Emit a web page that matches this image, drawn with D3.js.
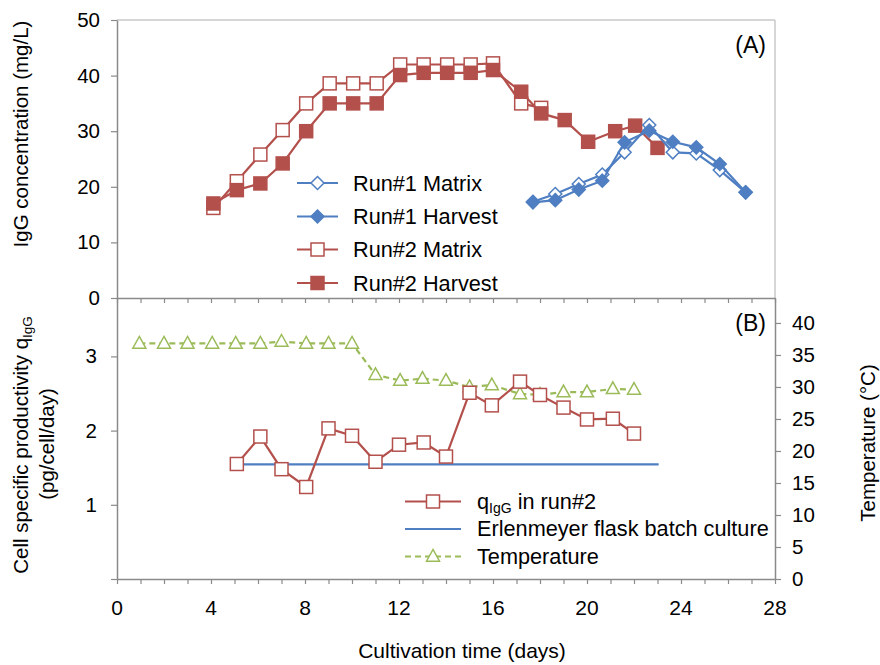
<!DOCTYPE html>
<html><head><meta charset="utf-8">
<script src="https://cdn.jsdelivr.net/npm/d3@7"></script>
<style>
body{margin:0;background:#fff;}
text{font-family:"Liberation Sans",Arial,sans-serif;fill:#000;}
</style></head>
<body><svg id="c" width="880" height="665"></svg>
<script>
// ---------- data ----------
const run2Days = [4.1,5.1,6.1,7.05,8.05,9.05,10.05,11.05,12.05,13.05,14.05,15.05,16.0,17.2,18.05,19.05,20.05,21.2,22.05,23.0];
const run2Matrix = [16.2,21.0,25.8,30.2,35.0,38.6,38.6,38.6,42.0,42.0,42.0,42.0,42.2,35.0,34.2];
const run2Harvest = [17.0,19.4,20.6,24.2,30.0,35.0,35.0,35.0,40.1,40.5,40.5,40.5,41.0,37.1,33.2,32.0,28.1,30.0,31.0,27.0];
const run1Days = [17.7,18.65,19.65,20.65,21.6,22.65,23.65,24.65,25.65,26.75];
const run1Matrix = [17.3,18.7,20.5,22.2,26.2,31.1,26.2,26.0,23.0,19.0];
const run1Harvest = [17.2,17.6,19.5,21.1,28.0,30.1,28.1,27.1,24.1,19.0];
const qDays = [5.1,6.1,7.0,8.05,9.0,10.0,11.0,12.0,13.05,14.0,15.0,15.95,17.15,18.0,19.0,20.0,21.1,22.0];
const qValues = [1.55,1.92,1.48,1.24,2.03,1.93,1.58,1.81,1.84,1.65,2.51,2.34,2.66,2.48,2.31,2.15,2.16,1.96];
const flaskDays = [5.1,23.05];
const flaskValues = [1.545,1.545];
const tempDays = [0.95,2.0,3.0,4.05,5.05,6.1,7.0,8.05,9.0,10.0,11.0,12.05,13.0,14.0,15.0,15.95,17.15,18.0,19.0,20.0,21.1,22.0];
const tempValues = [36.8,36.8,36.8,36.8,36.8,36.8,37.1,36.8,36.8,36.8,31.9,31.0,31.3,31.0,30.0,30.3,28.9,28.8,29.2,29.2,29.7,29.6];
const xTicks = [0,4,8,12,16,20,24,28];
const yTicksA = [0,10,20,30,40,50];
const yTicksB = [1,2,3];
const yTicksT = [0,5,10,15,20,25,30,35,40];

// ---------- layout ----------
const RED = "#B3504C", BLUE = "#4F7FC2", GREEN = "#9BBB59", AX = "#8a8a8a";
const L = 117, R = 775, AT = 20, AB = 298, BT = 298, BB = 579;
const svg = d3.select("#c");
const x = d3.scaleLinear().domain([0,28]).range([L,R]);
const yA = d3.scaleLinear().domain([0,50]).range([AB,AT]);
const yB = d3.scaleLinear().domain([0,3.787]).range([BB,BT]);
const yT = d3.scaleLinear().domain([0,43.9]).range([BB,BT]);
const zip = (a,b) => b.map((v,i)=>[a[i],v]);

// frame lines
svg.append("line").attr("x1",L).attr("x2",R).attr("y1",AT).attr("y2",AT).attr("stroke","#c8c8c8").attr("stroke-width",1.5);
svg.append("line").attr("x1",R).attr("x2",R).attr("y1",AT).attr("y2",AB).attr("stroke","#c8c8c8").attr("stroke-width",1.5);

function styleAxis(g, fs){
  g.selectAll("path.domain").attr("stroke",AX).attr("stroke-width",1.5);
  g.selectAll(".tick line").attr("stroke",AX).attr("stroke-width",1.2);
  g.selectAll("text").attr("font-size",fs).attr("fill","#000").style("font-family","'Liberation Sans',Arial,sans-serif");
}
const allDays = d3.range(0,29);
// panel A x axis (ticks only)
const gxa = svg.append("g").attr("transform",`translate(0,${AB})`)
  .call(d3.axisBottom(x).tickValues(allDays).tickSize(5).tickSizeOuter(0).tickFormat(""));
styleAxis(gxa,0);
// panel B x axis
const gxb = svg.append("g").attr("transform",`translate(0,${BB})`)
  .call(d3.axisBottom(x).tickValues(allDays).tickSize(5).tickSizeOuter(0).tickFormat(""));
styleAxis(gxb,0);
svg.append("g").selectAll("text").data(xTicks).join("text")
  .attr("x",d=>x(d)).attr("y",615).attr("text-anchor","middle").attr("font-size",21).text(d=>d);
// panel A y axis
const gya = svg.append("g").attr("transform",`translate(${L},0)`)
  .call(d3.axisLeft(yA).tickValues(yTicksA).tickSize(6).tickSizeOuter(0).tickPadding(11));
styleAxis(gya,20.5);
// panel B y axis
const gyb = svg.append("g").attr("transform",`translate(${L},0)`)
  .call(d3.axisLeft(yB).tickValues([0].concat(yTicksB)).tickSize(6).tickSizeOuter(0).tickPadding(14).tickFormat(d=>d===0?"":d));
styleAxis(gyb,20.5);
// right temperature axis
const gyt = svg.append("g").attr("transform",`translate(${R},0)`)
  .call(d3.axisRight(yT).tickValues(yTicksT).tickSize(6).tickSizeOuter(0).tickPadding(11));
styleAxis(gyt,20.5);

// axis titles
svg.append("text").attr("transform",`translate(28,134) rotate(-90)`).attr("text-anchor","middle")
  .attr("font-size",20.5).text("IgG concentration (mg/L)");
const t1 = svg.append("text").attr("transform",`translate(28,445) rotate(-90)`).attr("text-anchor","middle").attr("font-size",20.5);
t1.append("tspan").text("Cell specific productivity q");
t1.append("tspan").attr("font-size",13.5).attr("dy",4).text("IgG");
svg.append("text").attr("transform",`translate(54,444) rotate(-90)`).attr("text-anchor","middle")
  .attr("font-size",20.5).text("(pg/cell/day)");
svg.append("text").attr("transform",`translate(875,443) rotate(-90)`).attr("text-anchor","middle")
  .attr("font-size",20.5).text("Temperature (°C)");
svg.append("text").attr("x",462).attr("y",658).attr("text-anchor","middle").attr("font-size",21).text("Cultivation time (days)");
svg.append("text").attr("x",766).attr("y",53).attr("text-anchor","end").attr("font-size",23).text("(A)");
svg.append("text").attr("x",766).attr("y",331).attr("text-anchor","end").attr("font-size",23).text("(B)");

// ---------- marker helpers ----------
function square(g, cx, cy, s, fill, stroke){
  g.append("rect").attr("x",cx-s/2).attr("y",cy-s/2).attr("width",s).attr("height",s)
    .attr("fill",fill).attr("stroke",stroke).attr("stroke-width",1.5);
}
function diamond(g, cx, cy, r, fill, stroke){
  g.append("path").attr("d",`M${cx},${cy-r}L${cx+r},${cy}L${cx},${cy+r}L${cx-r},${cy}Z`)
    .attr("fill",fill).attr("stroke",stroke).attr("stroke-width",1.5);
}
function triangle(g, cx, cy, w, fill, stroke){
  const h = w*0.9;
  g.append("path").attr("d",`M${cx},${cy-h*0.6}L${cx+w/2},${cy+h*0.4}L${cx-w/2},${cy+h*0.4}Z`)
    .attr("fill",fill).attr("stroke",stroke).attr("stroke-width",1.5);
}
function series(pts, xs, ys, color, marker, dash){
  const g = svg.append("g");
  g.append("path").attr("d",d3.line().x(d=>xs(d[0])).y(d=>ys(d[1]))(pts))
    .attr("fill","none").attr("stroke",color).attr("stroke-width",2.2)
    .attr("stroke-dasharray",dash||null);
  pts.forEach(p=>marker(g, xs(p[0]), ys(p[1])));
}

// ---------- panel A ----------
series(zip(run2Days,run2Matrix), x, yA, RED, (g,a,b)=>square(g,a,b,13,"#fff",RED));
series(zip(run2Days,run2Harvest), x, yA, RED, (g,a,b)=>square(g,a,b,13,RED,RED));
series(zip(run1Days,run1Matrix), x, yA, BLUE, (g,a,b)=>diamond(g,a,b,6.5,"#fff",BLUE));
series(zip(run1Days,run1Harvest), x, yA, BLUE, (g,a,b)=>diamond(g,a,b,6.5,BLUE,BLUE));

// ---------- panel B ----------
series(zip(tempDays,tempValues), x, yT, GREEN, (g,a,b)=>triangle(g,a,b,13,"#fff",GREEN), "6,4");
svg.append("path").attr("d",d3.line().x(d=>x(d[0])).y(d=>yB(d[1]))(zip(flaskDays,flaskValues)))
  .attr("fill","none").attr("stroke",BLUE).attr("stroke-width",2.2);
series(zip(qDays,qValues), x, yB, RED, (g,a,b)=>square(g,a,b,13,"#fff",RED));

// ---------- legends ----------
const legA = [
  {label:"Run#1 Matrix", color:BLUE, m:(g,a,b)=>diamond(g,a,b,6.5,"#fff",BLUE)},
  {label:"Run#1 Harvest", color:BLUE, m:(g,a,b)=>diamond(g,a,b,6.5,BLUE,BLUE)},
  {label:"Run#2 Matrix", color:RED, m:(g,a,b)=>square(g,a,b,13,"#fff",RED)},
  {label:"Run#2 Harvest", color:RED, m:(g,a,b)=>square(g,a,b,13,RED,RED)}
];
const legAy = [183,216.5,249.5,283];
legA.forEach((d,i)=>{
  const g = svg.append("g"); const yy = legAy[i];
  g.append("line").attr("x1",297).attr("x2",338).attr("y1",yy).attr("y2",yy).attr("stroke",d.color).attr("stroke-width",2.2);
  d.m(g,317.5,yy);
  g.append("text").attr("x",353).attr("y",yy+7.5).attr("font-size",21.7).text(d.label);
});
const legBy = [501.5,529,556.5];
// q legend
{
  const g = svg.append("g"); const yy = legBy[0];
  g.append("line").attr("x1",405).attr("x2",461).attr("y1",yy).attr("y2",yy).attr("stroke",RED).attr("stroke-width",2.2);
  square(g,433,yy,13,"#fff",RED);
  const t = g.append("text").attr("x",477).attr("y",yy+7).attr("font-size",21.7);
  t.append("tspan").text("q");
  t.append("tspan").attr("font-size",14).attr("dy",4).text("IgG");
  t.append("tspan").attr("dy",-4).text(" in run#2");
}
{
  const g = svg.append("g"); const yy = legBy[1];
  g.append("line").attr("x1",405).attr("x2",461).attr("y1",yy).attr("y2",yy).attr("stroke",BLUE).attr("stroke-width",2.2);
  g.append("text").attr("x",477).attr("y",yy+7).attr("font-size",21.7).text("Erlenmeyer flask batch culture");
}
{
  const g = svg.append("g"); const yy = legBy[2];
  g.append("line").attr("x1",405).attr("x2",461).attr("y1",yy).attr("y2",yy).attr("stroke",GREEN).attr("stroke-width",2).attr("stroke-dasharray","6,4");
  triangle(g,433,yy,13,"#fff",GREEN);
  g.append("text").attr("x",477).attr("y",yy+7).attr("font-size",21.7).text("Temperature");
}
</script></body></html>
